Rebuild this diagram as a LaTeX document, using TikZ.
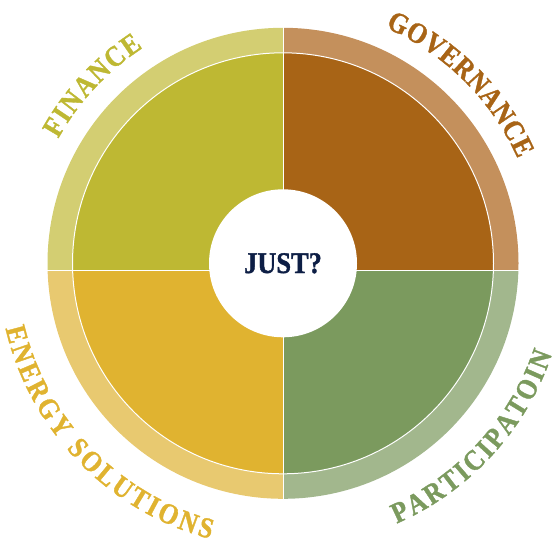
\documentclass[tikz,border=0pt]{standalone}
\usepackage{fontspec}
\setmainfont{Liberation Serif}
\newfontfamily\heavyfont[FakeStretch=0.88, BoldFeatures={FakeBold=1.2}]{Liberation Serif}
\usepackage{tikz}
\usetikzlibrary{decorations.text}

\definecolor{findark}{HTML}{BEB833}
\definecolor{finlight}{HTML}{D3CE72}
\definecolor{govdark}{HTML}{A86416}
\definecolor{govlight}{HTML}{C4905C}
\definecolor{enedark}{HTML}{E0B330}
\definecolor{enelight}{HTML}{E8C970}
\definecolor{pardark}{HTML}{7B9A5E}
\definecolor{parlight}{HTML}{A2B78D}
\definecolor{navy}{HTML}{0D1E45}

\newcommand{\labelfont}{\heavyfont\bfseries\fontsize{29}{29}\selectfont}

\begin{document}
\begin{tikzpicture}[x=1pt,y=1pt]
	\useasboundingbox (0,0) rectangle (557,539);
	\coordinate (C) at (283,275.7);
	% four quarters: light ring, dark sector
	\begin{scope}
		\clip (0,268.5) rectangle (283.3,539);
		\fill [finlight] (C) circle (235.5);
		\fill [findark] (C) circle (210.5);
	\end{scope}
	\begin{scope}
		\clip (283.3,268.5) rectangle (557,539);
		\fill [govlight] (C) circle (235.5);
		\fill [govdark] (C) circle (210.5);
	\end{scope}
	\begin{scope}
		\clip (0,0) rectangle (283.3,268.5);
		\fill [enelight] (C) circle (235.5);
		\fill [enedark] (C) circle (210.5);
	\end{scope}
	\begin{scope}
		\clip (283.3,0) rectangle (557,268.5);
		\fill [parlight] (C) circle (235.5);
		\fill [pardark] (C) circle (210.5);
	\end{scope}
	\draw [white, line width=1pt] (C) circle (210.5);
	\draw [white, line width=1.5pt] (40,268.5) -- (526,268.5);
	\draw [white, line width=1.5pt] (283.3,30) -- (283.3,520);
	\node (just) [circle, fill=white, minimum size=148pt, inner sep=0pt, text=navy,
		font=\heavyfont\bfseries\fontsize{30}{30}\selectfont] at (C) {JUST?};
	% labels round the ring
	\path [shift={(C)}, decoration={text along path, text align=fit to path,
		text color=findark, text={|\labelfont|FINANCE}}, decorate]
		(151:257) arc (151:123:257);
	\path [shift={(C)}, decoration={text along path, text align=fit to path,
		text color=govdark, text={|\labelfont|GOVERNANCE}}, decorate]
		(66.5:257) arc (66.5:24:257);
	\path [shift={(C)}, decoration={text along path, text align=fit to path,
		text color=enedark, text={|\labelfont|ENERGY SOLUTIONS}}, decorate]
		(193.2:285) arc (193.2:255.2:285);
	\path [shift={(C)}, decoration={text along path, text align=fit to path,
		text color=pardark, text={|\labelfont|PARTICIPATOIN}}, decorate]
		(-66.4:284) arc (-66.4:-18.6:284);
\end{tikzpicture}
\end{document}
